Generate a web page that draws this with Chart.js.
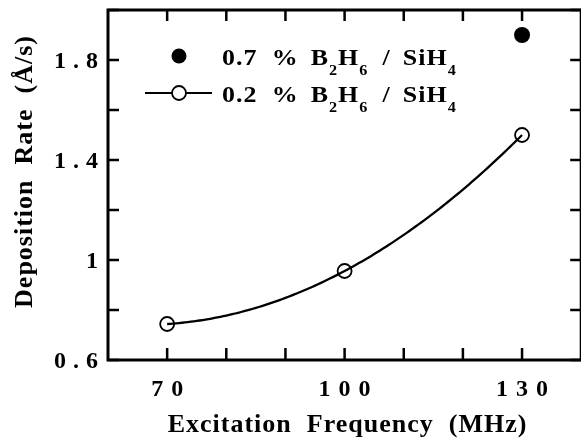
<!DOCTYPE html>
<html>
<head>
<meta charset="utf-8">
<script src="https://cdn.jsdelivr.net/npm/chart.js@4.4.1/dist/chart.umd.min.js"></script>
<style>
    body { margin: 0; overflow: hidden; background: #fff; }
    #wrap { width: 590px; height: 440px; }
</style>
</head>
<body>
<div id="wrap"><canvas id="grafico" width="590" height="440"></canvas></div>
<script>
// Dati: frequenza di eccitazione (MHz) e velocita' di deposizione (A/s)
const freq02 = [70, 100, 130];
const rate02 = [0.744, 0.956, 1.50];
const freq07 = [130];
const rate07 = [1.90];

// Tacche e etichette degli assi
const xTicks = [70, 80, 90, 100, 110, 120, 130];
const xLabels = [70, 100, 130];
const yTicks = [0.6, 0.8, 1.0, 1.2, 1.4, 1.6, 1.8, 2.0];
const yLabels = [0.6, 1, 1.4, 1.8];

const serif = '"Liberation Serif", "Times New Roman", serif';

// Testo con spaziatura tra le lettere
function spacedText(ctx, text, x, y, spacing, align) {
    ctx.letterSpacing = spacing + 'px';
    let w = ctx.measureText(text).width - spacing;
    let sx = x;
    if (align === 'center') sx = x - w / 2;
    if (align === 'right') sx = x - w;
    ctx.textAlign = 'left';
    ctx.fillText(text, sx, y);
    ctx.letterSpacing = '0px';
}

// Una riga della legenda: pezzi di testo in sequenza, con pedici e spazi
function legendText(ctx, parts, x, y) {
    const sx = 1.08;
    let cx = x;
    parts.forEach(p => {
        if (p.gap) { cx += p.gap; return; }
        ctx.save();
        ctx.font = p.sub ? 'bold 15px ' + serif : 'bold 24px ' + serif;
        ctx.letterSpacing = p.sub ? '0px' : '1px';
        ctx.textAlign = 'left';
        ctx.translate(cx, p.sub ? y + 10 : y);
        ctx.scale(sx, 1);
        ctx.fillText(p.t, 0, 0);
        cx += ctx.measureText(p.t).width * sx + (p.sub ? 1 : 0);
        ctx.restore();
    });
}

const legendParts = pct => [
    { t: pct }, { gap: 14 }, { t: '%' }, { gap: 12 }, { t: 'B' }, { t: '2', sub: true },
    { t: 'H' }, { t: '6', sub: true }, { gap: 14 }, { t: '/' }, { gap: 12 },
    { t: 'SiH' }, { t: '4', sub: true }
];

// Parabola che passa per i tre punti della serie 0.2 %
function parabola(x) {
    let y = 0;
    for (let i = 0; i < 3; i++) {
        let l = 1;
        for (let j = 0; j < 3; j++) {
            if (j !== i) l *= (x - freq02[j]) / (freq02[i] - freq02[j]);
        }
        y += rate02[i] * l;
    }
    return y;
}

const curva = {
    id: 'curva',
    beforeDatasetsDraw(chart) {
        const ctx = chart.ctx;
        const xs = chart.scales.x, ys = chart.scales.y;
        const x0 = freq02[0], x1 = freq02[freq02.length - 1];
        ctx.save();
        ctx.strokeStyle = '#000';
        ctx.lineWidth = 2.3;
        ctx.lineJoin = 'round';
        ctx.beginPath();
        for (let k = 0; k <= 120; k++) {
            let x = x0 + (x1 - x0) * k / 120;
            let px = xs.getPixelForValue(x), py = ys.getPixelForValue(parabola(x));
            if (k === 0) ctx.moveTo(px, py); else ctx.lineTo(px, py);
        }
        ctx.stroke();
        ctx.restore();
    }
};

const cornice = {
    id: 'cornice',
    afterDraw(chart) {
        const ctx = chart.ctx;
        const a = chart.chartArea;
        const xs = chart.scales.x, ys = chart.scales.y;
        ctx.save();
        ctx.strokeStyle = '#000';
        ctx.fillStyle = '#000';

        // riquadro
        ctx.lineWidth = 3;
        ctx.strokeRect(a.left, a.top, a.right - a.left, a.bottom - a.top);

        // tacche verso l'interno
        ctx.lineWidth = 2.5;
        ctx.beginPath();
        xTicks.forEach(v => {
            let px = xs.getPixelForValue(v);
            ctx.moveTo(px, a.bottom); ctx.lineTo(px, a.bottom - 12);
            ctx.moveTo(px, a.top); ctx.lineTo(px, a.top + 11);
        });
        yTicks.forEach(v => {
            let py = ys.getPixelForValue(v);
            ctx.moveTo(a.left, py); ctx.lineTo(a.left + 11, py);
            ctx.moveTo(a.right, py); ctx.lineTo(a.right - 11, py);
        });
        ctx.stroke();

        // etichette delle tacche
        ctx.font = 'bold 24px ' + serif;
        ctx.textBaseline = 'alphabetic';
        xLabels.forEach(v => {
            spacedText(ctx, String(v), xs.getPixelForValue(v), 396, 8, 'center');
        });
        yLabels.forEach(v => {
            spacedText(ctx, String(v), 98, ys.getPixelForValue(v) + 8, 7, 'right');
        });

        // titoli degli assi
        ctx.font = 'bold 26px ' + serif;
        spacedText(ctx, 'Excitation  Frequency  (MHz)', 347, 432, 1, 'center');
        ctx.save();
        ctx.translate(32, 172);
        ctx.rotate(-Math.PI / 2);
        spacedText(ctx, 'Deposition  Rate  (Å/s)', 0, 0, 1, 'center');
        ctx.restore();

        // legenda
        ctx.beginPath();
        ctx.arc(179, 56, 7.5, 0, Math.PI * 2);
        ctx.fill();
        ctx.lineWidth = 2;
        ctx.beginPath();
        ctx.moveTo(145, 93); ctx.lineTo(172, 93);
        ctx.moveTo(186, 93); ctx.lineTo(212, 93);
        ctx.stroke();
        ctx.lineWidth = 1.8;
        ctx.beginPath();
        ctx.arc(179, 93, 7, 0, Math.PI * 2);
        ctx.stroke();

        legendText(ctx, legendParts('0.7'), 222, 65);
        legendText(ctx, legendParts('0.2'), 222, 102);

        ctx.restore();
    }
};

new Chart(document.getElementById('grafico'), {
    type: 'scatter',
    data: {
        datasets: [{
            label: '0.2 % B2H6 / SiH4',
            data: freq02.map((f, i) => ({ x: f, y: rate02[i] })),
            showLine: false,
            pointRadius: 7,
            pointBorderWidth: 1.8,
            pointBorderColor: '#000',
            pointBackgroundColor: 'rgba(255,255,255,0)'
        }, {
            label: '0.7 % B2H6 / SiH4',
            data: freq07.map((f, i) => ({ x: f, y: rate07[i] })),
            showLine: false,
            pointRadius: 8,
            pointBorderWidth: 0,
            pointBackgroundColor: '#000'
        }]
    },
    options: {
        responsive: false,
        animation: false,
        layout: { padding: { top: 10, right: 8, left: 0, bottom: 0 } },
        plugins: {
            legend: { display: false },
            tooltip: { enabled: false }
        },
        scales: {
            x: {
                type: 'linear',
                min: 60,
                max: 140,
                grid: { display: false },
                border: { display: false },
                ticks: { display: false },
                afterFit: s => { s.height = 80; }
            },
            y: {
                min: 0.6,
                max: 2.0,
                grid: { display: false },
                border: { display: false },
                ticks: { display: false },
                afterFit: s => { s.width = 108; }
            }
        }
    },
    plugins: [curva, cornice]
});
</script>
</body>
</html>
